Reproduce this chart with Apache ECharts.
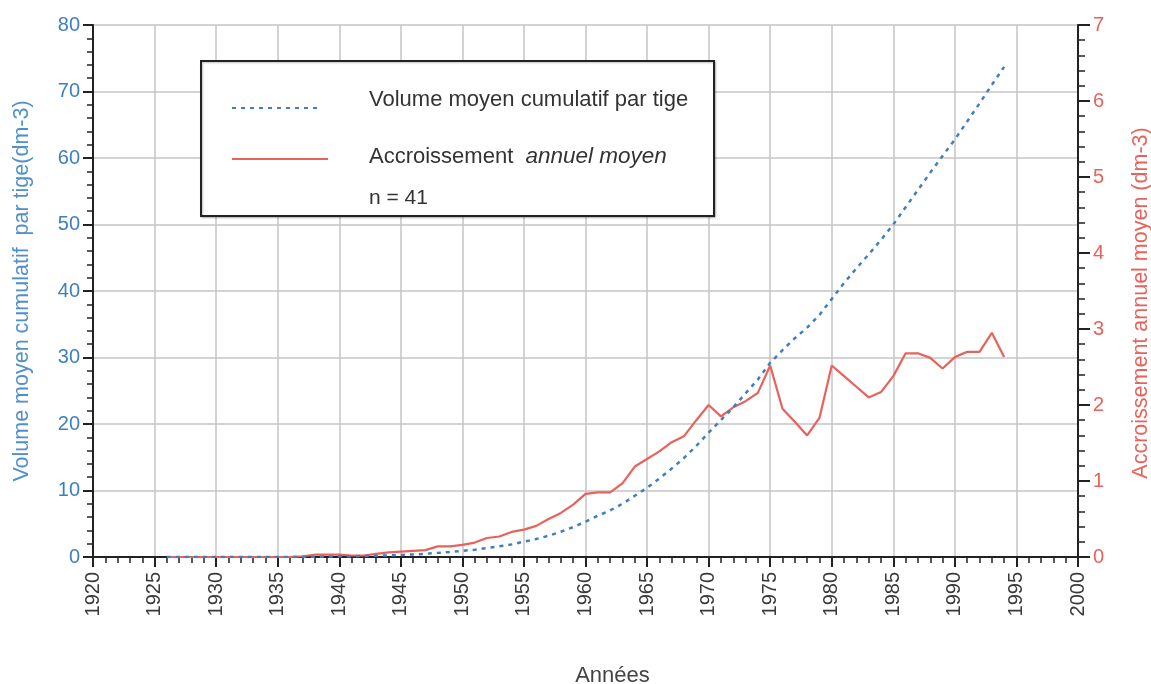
<!DOCTYPE html>
<html>
<head>
<meta charset="utf-8">
<script src="https://cdn.jsdelivr.net/npm/echarts@6/dist/echarts.min.js"></script>
<style>
html,body{margin:0;padding:0;background:#fff;}
#chart{width:1151px;height:684px;}
</style>
</head>
<body>
<div id="chart"></div>
<script>
const years = [1926,1927,1928,1929,1930,1931,1932,1933,1934,1935,1936,1937,1938,1939,1940,1941,1942,1943,1944,1945,1946,1947,1948,1949,1950,1951,1952,1953,1954,1955,1956,1957,1958,1959,1960,1961,1962,1963,1964,1965,1966,1967,1968,1969,1970,1971,1972,1973,1974,1975,1976,1977,1978,1979,1980,1981,1982,1983,1984,1985,1986,1987,1988,1989,1990,1991,1992,1993,1994];
const volumeCumulatif = [0,0,0,0,0,0,0,0,0,0,0,0.01,0.04,0.07,0.1,0.12,0.14,0.18,0.24,0.31,0.39,0.48,0.62,0.76,0.92,1.1,1.35,1.6,1.9,2.3,2.7,3.2,3.8,4.5,5.3,6.2,7.0,8.0,9.2,10.4,11.8,13.3,14.9,16.7,18.7,20.6,22.5,24.6,26.7,29.2,31.1,32.9,34.5,36.4,38.8,41.2,43.4,45.5,47.7,50.0,52.6,55.2,57.8,60.3,62.8,65.5,68.2,71.0,73.7];
const accroissement = [0,0,0,0,0,0,0,0,0,0,0,0.01,0.03,0.03,0.03,0.02,0.02,0.04,0.06,0.07,0.08,0.09,0.14,0.14,0.16,0.19,0.25,0.27,0.33,0.36,0.41,0.5,0.58,0.69,0.83,0.85,0.85,0.97,1.19,1.29,1.39,1.51,1.59,1.8,2.0,1.85,1.97,2.05,2.16,2.52,1.95,1.78,1.6,1.83,2.52,2.38,2.24,2.1,2.17,2.38,2.68,2.68,2.62,2.48,2.63,2.7,2.7,2.95,2.63];
const seriesNames = ['Volume moyen cumulatif par tige', 'Accroissement annuel moyen'];
const xTitle = 'Années';
const yLeftTitle = 'Volume moyen cumulatif  par tige(dm-3)';
const yRightTitle = 'Accroissement annuel moyen (dm-3)';
const nText = 'n = 41';

const FONT = '"Liberation Sans", Arial, sans-serif';
const BLUE = '#3f7fbf';
const BLUE_T = '#4f8fcc';
const RED = '#e8625b';
const AX = '#222';

const chart = echarts.init(document.getElementById('chart'), null, {renderer: 'canvas'});
const option = {
  animation: false,
  backgroundColor: '#fff',
  grid: {left: 93, right: 73, top: 25, bottom: 127, containLabel: false, outerBoundsMode: 'none'},
  xAxis: {
    type: 'value', min: 1920, max: 2000, interval: 5,
    name: xTitle, nameLocation: 'middle', nameGap: 108,
    nameTextStyle: {fontFamily: FONT, fontSize: 22, color: '#444', padding: [0, 0, 0, 54]},
    axisLine: {show: true, onZero: false, lineStyle: {color: AX, width: 2}},
    axisTick: {show: true, length: 10, lineStyle: {color: AX, width: 2}},
    minorTick: {show: true, splitNumber: 5, length: 6, lineStyle: {color: AX, width: 1.5}},
    axisLabel: {rotate: 90, margin: 15, fontFamily: FONT, fontSize: 20, color: '#3a3a3a', formatter: v => String(v)},
    splitLine: {show: true, lineStyle: {color: '#c4c4c4', width: 1.5}}
  },
  yAxis: [
    {
      type: 'value', min: 0, max: 80, interval: 10, position: 'left',
      name: yLeftTitle, nameLocation: 'middle', nameGap: 60,
      nameTextStyle: {fontFamily: FONT, fontSize: 21.5, color: BLUE_T},
      axisLine: {show: true, lineStyle: {color: AX, width: 2}},
      axisTick: {show: true, length: 10, lineStyle: {color: AX, width: 2}},
      minorTick: {show: true, splitNumber: 5, length: 6, lineStyle: {color: AX, width: 1.5}},
      axisLabel: {margin: 13, fontFamily: FONT, fontSize: 20, color: BLUE},
      splitLine: {show: true, lineStyle: {color: '#c4c4c4', width: 1.5}}
    },
    {
      type: 'value', min: 0, max: 7, interval: 1, position: 'right',
      name: yRightTitle, nameLocation: 'middle', nameGap: 52, nameRotate: 90,
      nameTextStyle: {fontFamily: FONT, fontSize: 21.5, color: RED, padding: [0, 24, 0, 0]},
      axisLine: {show: true, lineStyle: {color: AX, width: 2}},
      axisTick: {show: true, length: 12, lineStyle: {color: AX, width: 2}},
      minorTick: {show: true, splitNumber: 5, length: 7, lineStyle: {color: AX, width: 1.5}},
      axisLabel: {margin: 15, fontFamily: FONT, fontSize: 20, color: RED},
      splitLine: {show: false}
    }
  ],
  series: [
    {
      name: seriesNames[1], type: 'line', yAxisIndex: 1, showSymbol: false, symbol: 'none',
      data: years.map((y, i) => [y, accroissement[i]]),
      lineStyle: {color: RED, width: 2.2}, z: 3
    },
    {
      name: seriesNames[0], type: 'line', yAxisIndex: 0, showSymbol: false, symbol: 'none',
      data: years.map((y, i) => [y, volumeCumulatif[i]]),
      lineStyle: {color: BLUE, width: 2.5, type: [4, 5]}, z: 4
    }
  ],
  graphic: [
    {type: 'rect', shape: {x: 201, y: 61, width: 513, height: 155}, style: {fill: '#fff', stroke: '#222', lineWidth: 2, shadowColor: 'rgba(0,0,0,0.25)', shadowBlur: 2, shadowOffsetX: 1, shadowOffsetY: 1}, z: 100},
    {type: 'line', shape: {x1: 232, y1: 108, x2: 322, y2: 108}, style: {stroke: BLUE, lineWidth: 2, lineDash: [4, 5]}, z: 101},
    {type: 'line', shape: {x1: 232, y1: 159, x2: 328, y2: 159}, style: {stroke: RED, lineWidth: 2}, z: 101},
    {type: 'text', left: 369, top: 89, style: {text: seriesNames[0], font: '22px ' + FONT, fill: '#333'}, z: 101},
    {type: 'text', left: 369, top: 145, style: {text: '{a|Accroissement  }{b|annuel moyen}', fill: '#333', rich: {a: {fontFamily: FONT, fontSize: 22, fill: '#333'}, b: {fontFamily: FONT, fontSize: 22.5, fontStyle: 'italic', fill: '#333'}}}, z: 101},
    {type: 'text', left: 369, top: 188, style: {text: nText, font: '21px ' + FONT, fill: '#333'}, z: 101}
  ]
};
chart.setOption(option);
</script>
</body>
</html>
